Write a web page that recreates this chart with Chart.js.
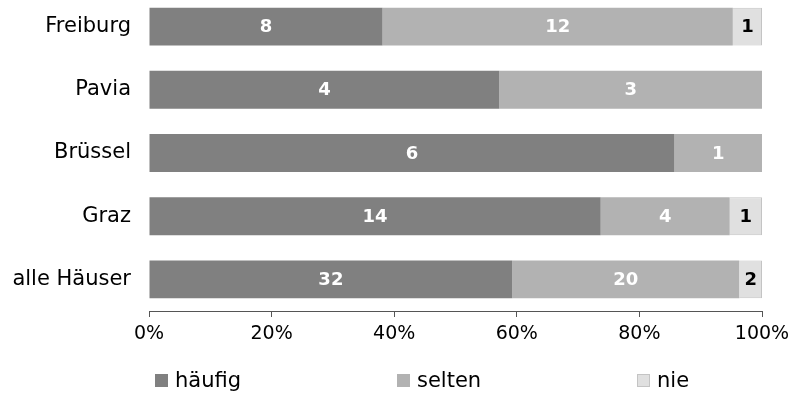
<!DOCTYPE html>
<html>
<head>
<meta charset="utf-8">
<script src="https://cdn.jsdelivr.net/npm/chart.js@4/dist/chart.umd.min.js"></script>
<style>
  html, body { margin: 0; padding: 0; background: #ffffff; }
  #wrap { position: relative; width: 790px; height: 394px; overflow: hidden; }
  #c { position: absolute; left: 0; top: -5px; }
  .lg { position: absolute; top: 366px; height: 28px; display: flex; align-items: center;
        font-family: "DejaVu Sans", sans-serif; font-size: 21px; color: #000; }
  .lg span.box { display: inline-block; width: 13px; height: 13px; margin-right: 7px; box-sizing: border-box; }
</style>
</head>
<body>
<div id="wrap">
  <canvas id="c" width="790" height="399"></canvas>
  <div id="legend"></div>
</div>
<script>
const categories = ["Freiburg", "Pavia", "Brüssel", "Graz", "alle Häuser"];
const seriesNames = ["häufig", "selten", "nie"];
const haeufig = [8, 4, 6, 14, 32];
const selten = [12, 3, 1, 4, 20];
const nie = [1, 0, 0, 1, 2];
const xTicks = [0, 20, 40, 60, 80, 100];

const colors = ["#808080", "#b2b2b2", "#e0e0e0"];
const borderColors = ["#8a8a8a", "#b9b9b9", "#c4c4c4"];
const labelColors = ["#ffffff", "#ffffff", "#000000"];
const legendX = [155, 397, 637];

const counts = [haeufig, selten, nie];
const totals = categories.map((_, i) => haeufig[i] + selten[i] + nie[i]);
const pct = arr => arr.map((v, i) => v / totals[i] * 100);

const datasets = counts.map((arr, k) => ({
  label: seriesNames[k],
  data: pct(arr),
  counts: arr,
  backgroundColor: colors[k],
  borderColor: borderColors[k],
  borderWidth: k === 2 ? 1 : 0,
  categoryPercentage: 1.0,
  barPercentage: 0.6
}));

const valueLabels = {
  id: 'valueLabels',
  afterDatasetsDraw(chart) {
    const ctx = chart.ctx;
    ctx.save();
    ctx.font = 'bold 18px "DejaVu Sans", sans-serif';
    ctx.textAlign = 'center';
    ctx.textBaseline = 'middle';
    chart.data.datasets.forEach((ds, k) => {
      const meta = chart.getDatasetMeta(k);
      meta.data.forEach((bar, i) => {
        const v = ds.counts[i];
        if (!v) return;
        const cx = (bar.x + bar.base) / 2;
        ctx.fillStyle = labelColors[k];
        ctx.fillText(String(v), cx, bar.y + 1);
      });
    });
    ctx.restore();
  }
};

const chart = new Chart(document.getElementById('c'), {
  type: 'bar',
  data: { labels: categories, datasets: datasets },
  options: {
    indexAxis: 'y',
    responsive: false,
    animation: false,
    devicePixelRatio: 1,
    layout: { padding: { top: 0, right: 28, bottom: 43, left: 0 } },
    plugins: { legend: { display: false }, tooltip: { enabled: false } },
    scales: {
      x: {
        stacked: true,
        min: 0, max: 100,
        afterBuildTicks(scale) { scale.ticks = xTicks.map(v => ({ value: v })); },
        afterFit(scale) { scale.height = 40; scale.paddingLeft = 0; scale.paddingRight = 0; },
        border: { display: true, color: '#555555', width: 1 },
        grid: { display: true, drawOnChartArea: false, drawTicks: true, tickLength: 6, color: '#555555' },
        ticks: {
          padding: 6,
          color: '#000000',
          font: { family: '"DejaVu Sans", sans-serif', size: 19 },
          callback: v => v + '%'
        }
      },
      y: {
        stacked: true,
        afterFit(scale) { scale.width = 149; scale.paddingTop = 0; scale.paddingBottom = 0; },
        border: { display: false },
        grid: { display: false },
        ticks: {
          padding: 10,
          color: '#000000',
          font: { family: '"DejaVu Sans", sans-serif', size: 21 }
        }
      }
    }
  },
  plugins: [valueLabels]
});

const lg = document.getElementById('legend');
chart.data.datasets.forEach((ds, k) => {
  const d = document.createElement('div');
  d.className = 'lg';
  d.style.left = legendX[k] + 'px';
  const b = document.createElement('span');
  b.className = 'box';
  b.style.background = ds.backgroundColor;
  if (k === 2) b.style.border = '1px solid ' + ds.borderColor;
  d.appendChild(b);
  d.appendChild(document.createTextNode(ds.label));
  lg.appendChild(d);
});
</script>
</body>
</html>
